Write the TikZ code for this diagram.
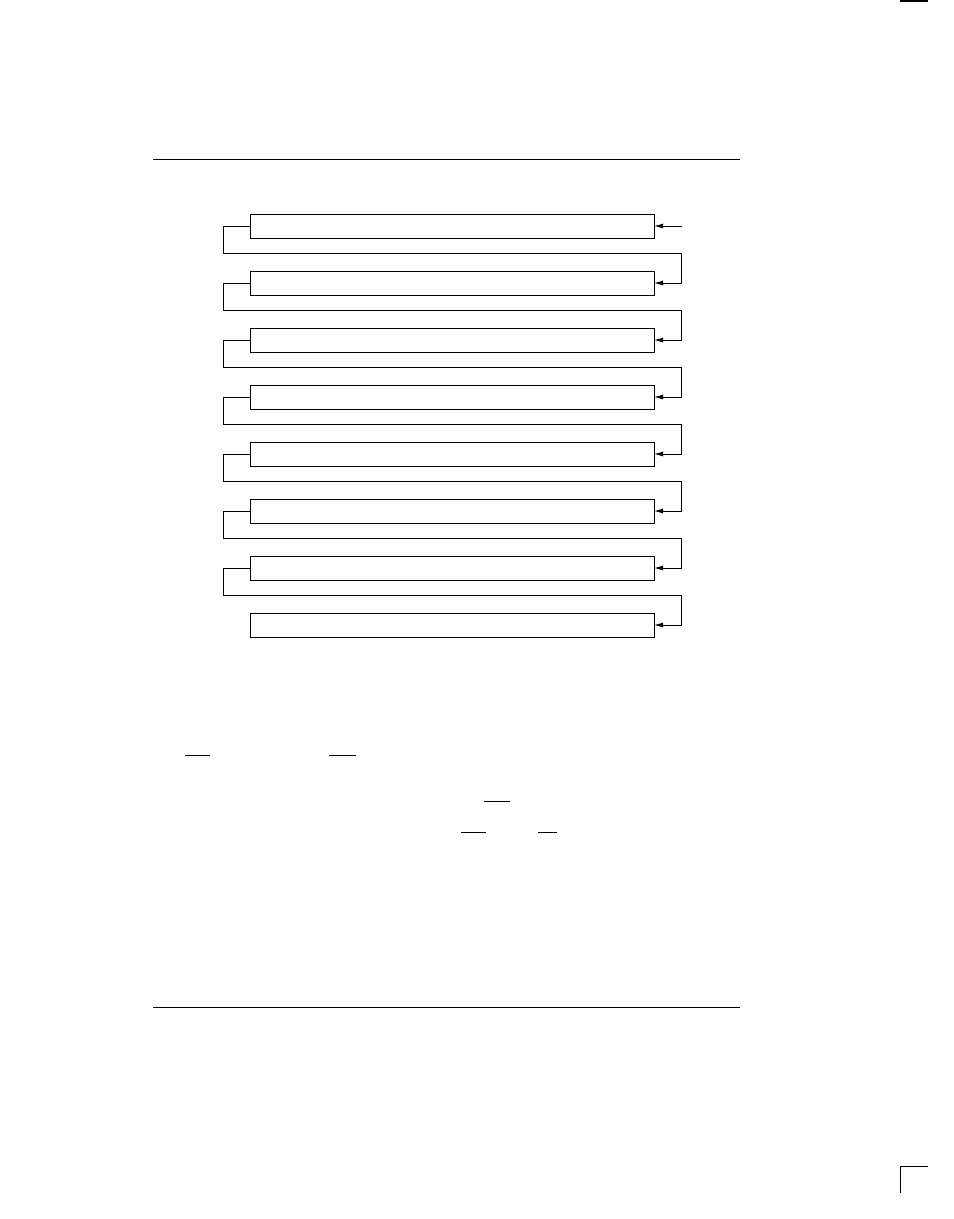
\documentclass[tikz,border=0pt]{standalone}
\usetikzlibrary{arrows.meta}
\begin{document}
\begin{tikzpicture}[x=1bp,y=-1bp,
  line width=1bp,
  box/.style={draw,rectangle,minimum width=404bp,minimum height=24bp,inner sep=0pt,outer sep=0pt},
  link/.style={draw,line join=miter,-{Latex[length=9bp,width=5bp]}},
  rule/.style={draw,line width=1bp}]
\useasboundingbox (0,0) rectangle (954,1219);
% page rules
\draw[rule] (153,159.3) -- (740,159.3);
\draw[rule] (153,1007) -- (740,1007);
% crop marks
\draw[rule,line width=2bp] (900,0.5) -- (928,0.5);
\draw[rule] (928,1166) -- (900,1166) -- (900,1193);
% boxes
\foreach \k in {1,...,8}{
  \node[box] (b\k) at (452,{226+57*(\k-1)}) {};
}
\coordinate (rx) at (681.7,0);
\coordinate (in) at (681.7,226);
\draw[link] (in) -- (b1.east);
\foreach \k [evaluate=\k as \n using int(\k+1)] in {1,...,7}{
  \coordinate (d\k) at (223,{253+57*(\k-1)});
  \draw[link] (b\k.west) -| (d\k) -- (d\k -| rx) |- (b\n.east);
}
% overline bars
\draw[rule] (185,755) -- (210,755);
\draw[rule] (329.3,755) -- (355.7,755);
\draw[rule] (484.3,801) -- (510,801);
\draw[rule] (461.3,832) -- (485.7,832);
\draw[rule] (538.3,832) -- (556.7,832);
\end{tikzpicture}
\end{document}
